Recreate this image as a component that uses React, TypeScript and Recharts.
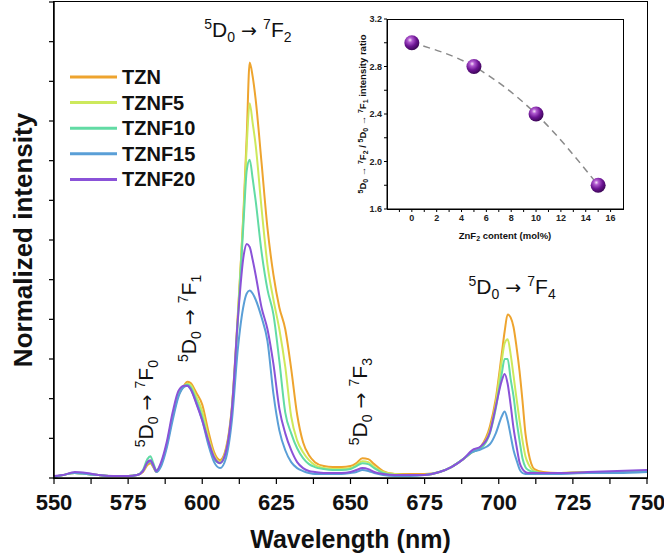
import React from "react";
import {
  LineChart,
  Line,
  XAxis,
  YAxis,
  ReferenceDot,
} from "recharts";

// emission spectra (arbitrary normalized units, axis 0-480)
const wavelengths = [
  550, 553, 557, 561, 565, 570, 575, 578, 580, 581.5, 582.5, 583.5, 584.5, 586,
  588, 590, 592, 594, 595, 596, 598, 600, 602, 604, 606, 608, 610, 612, 614,
  615, 616, 617, 618, 620, 622, 624, 626, 628, 630, 632, 634, 636, 638, 641,
  644, 647, 650, 652, 654, 656, 658, 661, 665, 670, 675, 680, 684, 688, 691,
  694, 697, 699, 701, 702, 703, 704, 705, 706, 707, 708, 709, 710, 712, 715,
  720, 730, 740, 750,
];
const tzn = [
  1, 3, 5, 4, 3, 2, 2, 3, 6, 13, 15, 11, 6, 13, 33, 62, 84, 94, 97, 96, 86, 74,
  48, 26, 18, 30, 72, 165, 275, 345, 419, 405, 382, 318, 252, 205, 172, 150,
  110, 64, 36, 23, 16, 12, 11, 11, 12, 15, 20, 19, 14, 7, 4, 4, 4, 6, 11, 19,
  26, 32, 52, 80, 125, 148, 165, 162, 152, 132, 108, 78, 45, 26, 9, 6, 5, 6, 6,
  7,
];
const tznf5 = [
  1, 3, 5, 4, 3, 2, 2, 3, 7, 15, 17, 12, 7, 13, 33, 62, 84, 93, 95, 94, 82, 67,
  42, 23, 16, 28, 70, 162, 270, 335, 378, 358, 336, 272, 215, 180, 150, 112,
  62, 38, 26, 18, 13, 10, 9, 9, 10, 13, 17, 16, 11, 6, 4, 3, 3, 6, 11, 19, 26,
  31, 48, 75, 118, 136, 140, 125, 103, 80, 58, 38, 22, 14, 7, 5, 5, 6, 6, 7,
];
const tznf10 = [
  1, 3, 5, 4, 3, 2, 2, 3, 8, 19, 22, 15, 8, 13, 33, 62, 84, 93, 94, 92, 78, 61,
  37, 19, 15, 26, 68, 158, 262, 310, 321, 302, 280, 228, 190, 165, 118, 66, 45,
  30, 20, 14, 11, 9, 8, 8, 9, 12, 15, 14, 10, 5, 3, 3, 3, 6, 11, 19, 26, 30, 45,
  70, 105, 120, 120, 100, 82, 58, 38, 20, 11, 8, 6, 5, 5, 5, 6, 6,
];
const tznf15 = [
  1, 3, 5, 4, 3, 2, 2, 3, 7, 15, 17, 12, 6, 11, 30, 58, 82, 92, 93, 90, 76, 58,
  34, 16, 10, 20, 58, 130, 175, 186, 189, 186, 180, 162, 138, 85, 48, 28, 16,
  10, 7, 5, 4, 4, 4, 4, 5, 6, 8, 7, 5, 3, 2, 2, 3, 6, 11, 19, 26, 29, 34, 45,
  62, 67, 58, 43, 28, 18, 9, 5, 4, 4, 4, 4, 4, 5, 5, 6,
];
const tznf20 = [
  2, 3, 6, 5, 3, 2, 2, 3, 7, 16, 18, 13, 7, 15, 36, 66, 88, 93, 93, 90, 75, 58,
  38, 21, 15, 27, 70, 160, 225, 236, 233, 220, 205, 172, 150, 115, 70, 45, 28,
  16, 10, 7, 6, 5, 5, 5, 6, 8, 10, 9, 6, 4, 3, 3, 3, 6, 11, 19, 28, 32, 46, 72,
  98, 105, 95, 74, 50, 32, 16, 9, 6, 5, 5, 5, 5, 6, 7, 8,
];

const seriesNames = ["TZN", "TZNF5", "TZNF10", "TZNF15", "TZNF20"];
const seriesColors = ["#EEA42E", "#CDE95C", "#62DBA4", "#5A9FD7", "#8A52D8"];
const seriesValues = [tzn, tznf5, tznf10, tznf15, tznf20];

const xTicks = [
  550, 562.5, 575, 587.5, 600, 612.5, 625, 637.5, 650, 662.5, 675, 687.5, 700,
  712.5, 725, 737.5, 750,
];
const yTicks = [0, 40, 80, 120, 160, 200, 240, 280, 320, 360, 400, 440, 480];

// transition annotations: anchor in data coords
const transitionLower = ["0", "1", "2", "3", "4"];
const transitionWl = [583.5, 597.9, 615.4, 655.6, 704.5];
const transitionY = [75, 161, 445, 77, 186];
const transitionRotated = [true, true, false, true, false];

// inset: ratio vs ZnF2 content
const znf2Content = [0, 5, 10, 15];
const intensityRatio = [3.0, 2.8, 2.4, 1.8];
const insetXTicks = [-1, 0, 1, 2, 3, 4, 5, 6, 7, 8, 9, 10, 11, 12, 13, 14, 15, 16];
const insetYTicks = [1.6, 1.8, 2.0, 2.2, 2.4, 2.6, 2.8, 3.0, 3.2];

const data = wavelengths.map((wl, i) => {
  const row: Record<string, number> = { wl };
  seriesNames.forEach((name, k) => {
    row[name] = seriesValues[k][i];
  });
  return row;
});
const insetData = znf2Content.map((c, i) => ({ c, r: intensityRatio[i] }));

const SANS = "'Liberation Sans', Arial, sans-serif";

// eslint-disable-next-line @typescript-eslint/no-explicit-any
const TransitionLabel = ({ viewBox, lower, rotated }: any) => {
  const { x, y } = viewBox;
  return (
    <text
      x={x}
      y={y}
      textAnchor="middle"
      fontSize={21}
      fontFamily={SANS}
      fill="#111"
      style={{ whiteSpace: "pre" }}
      transform={rotated ? `rotate(-90 ${x} ${y})` : undefined}
    >
      <tspan fontSize={14} dy={-8}>5</tspan>
      <tspan dy={8}>D</tspan>
      <tspan fontSize={14} dy={5}>0</tspan>
      <tspan dy={-5} fontFamily="'DejaVu Sans'" fontSize={19}> → </tspan>
      <tspan fontSize={14} dy={-8}>7</tspan>
      <tspan dy={8}>F</tspan>
      <tspan fontSize={14} dy={5}>{lower}</tspan>
    </text>
  );
};

// eslint-disable-next-line @typescript-eslint/no-explicit-any
const XTitle = ({ viewBox }: any) => (
  <text
    x={viewBox.x + viewBox.width / 2}
    y={viewBox.y + 70}
    textAnchor="middle"
    fontSize={25}
    fontWeight="bold"
    fontFamily={SANS}
    fill="#111"
  >
    Wavelength (nm)
  </text>
);

// eslint-disable-next-line @typescript-eslint/no-explicit-any
const YTitle = ({ viewBox }: any) => {
  const x = 32;
  const y = viewBox.y + viewBox.height / 2;
  return (
    <text
      x={x}
      y={y}
      textAnchor="middle"
      fontSize={26}
      fontWeight="bold"
      fontFamily={SANS}
      fill="#111"
      transform={`rotate(-90 ${x} ${y})`}
    >
      Normalized intensity
    </text>
  );
};

// eslint-disable-next-line @typescript-eslint/no-explicit-any
const InsetYTitle = ({ viewBox }: any) => {
  const x = 26;
  const y = viewBox.y + viewBox.height / 2;
  return (
    <text
      x={x}
      y={y}
      textAnchor="middle"
      fontSize={9.5}
      fontWeight="bold"
      fontFamily={SANS}
      fill="#111"
      style={{ whiteSpace: "pre" }}
      transform={`rotate(-90 ${x} ${y})`}
    >
      <tspan fontSize={7} dy={-3}>5</tspan>
      <tspan dy={3}>D</tspan>
      <tspan fontSize={7} dy={2}>0</tspan>
      <tspan dy={-2}> → </tspan>
      <tspan fontSize={7} dy={-3}>7</tspan>
      <tspan dy={3}>F</tspan>
      <tspan fontSize={7} dy={2}>2</tspan>
      <tspan dy={-2}> / </tspan>
      <tspan fontSize={7} dy={-3}>5</tspan>
      <tspan dy={3}>D</tspan>
      <tspan fontSize={7} dy={2}>0</tspan>
      <tspan dy={-2}> → </tspan>
      <tspan fontSize={7} dy={-3}>7</tspan>
      <tspan dy={3}>F</tspan>
      <tspan fontSize={7} dy={2}>1</tspan>
      <tspan dy={-2}> intensity ratio</tspan>
    </text>
  );
};

// eslint-disable-next-line @typescript-eslint/no-explicit-any
const InsetXTitle = ({ viewBox }: any) => (
  <text
    x={viewBox.x + viewBox.width / 2}
    y={viewBox.y + 30}
    textAnchor="middle"
    fontSize={9.5}
    fontWeight="bold"
    fontFamily={SANS}
    fill="#111"
  >
    ZnF<tspan fontSize={7} dy={2}>2</tspan>
    <tspan dy={-2}> content (mol%)</tspan>
  </text>
);

// eslint-disable-next-line @typescript-eslint/no-explicit-any
const Sphere = ({ cx, cy }: any) => (
  <circle cx={cx} cy={cy} r={7.5} fill="url(#sphereGrad)" />
);

const Legend = () => (
  <svg
    width={664}
    height={556}
    style={{ position: "absolute", left: 0, top: 0, pointerEvents: "none" }}
  >
    {seriesNames.map((name, i) => {
      const y = 77 + i * 25.6;
      return (
        <g key={name}>
          <line x1={70} x2={117} y1={y} y2={y} stroke={seriesColors[i]} strokeWidth={3} />
          <text
            x={122}
            y={y + 7}
            fontSize={20}
            fontWeight="bold"
            fontFamily={SANS}
            fill="#111"
          >
            {name}
          </text>
        </g>
      );
    })}
  </svg>
);

const axisLine = { stroke: "#000", strokeWidth: 1.5 };
const tickLine = { stroke: "#000", strokeWidth: 1.2 };

const App = () => {
  return (
    <div
      style={{
        position: "absolute",
        left: 0,
        top: 0,
        width: 664,
        height: 556,
        background: "#fff",
      }}
    >
      <svg width={0} height={0} style={{ position: "absolute" }}>
        <defs>
          <radialGradient id="sphereGrad" cx="0.38" cy="0.32" r="0.7">
            <stop offset="0%" stopColor="#f6e2f8" />
            <stop offset="22%" stopColor="#b15ad0" />
            <stop offset="60%" stopColor="#6c1493" />
            <stop offset="100%" stopColor="#3a0554" />
          </radialGradient>
        </defs>
      </svg>

      {/* plot frames */}
      <div
        style={{
          position: "absolute",
          left: 53,
          top: 1,
          width: 593,
          height: 476,
          border: "1.5px solid #000",
        }}
      />
      <div
        style={{
          position: "absolute",
          left: 387,
          top: 19,
          width: 235,
          height: 189,
          border: "1px solid #000",
        }}
      />

      <div style={{ position: "absolute", left: 0, top: 0 }}>
        <LineChart
          width={664}
          height={556}
          data={data}
          margin={{ top: 2, right: 17, left: 0, bottom: 0 }}
        >
          <XAxis
            dataKey="wl"
            type="number"
            domain={[550, 750]}
            ticks={xTicks}
            interval={0}
            height={78}
            tickSize={6}
            tickMargin={10}
            axisLine={axisLine}
            tickLine={tickLine}
            tickFormatter={(v: number) => (v % 25 === 0 ? String(v) : "")}
            tick={{ fontSize: 22, fontWeight: "bold", fontFamily: SANS, fill: "#111" }}
            label={<XTitle />}
          />
          <YAxis
            type="number"
            domain={[0, 480]}
            ticks={yTicks}
            interval={0}
            width={54}
            tickSize={5}
            axisLine={axisLine}
            tickLine={tickLine}
            tickFormatter={() => ""}
            label={<YTitle />}
          />
          {seriesNames.map((name, i) => (
            <Line
              key={name}
              dataKey={name}
              type="monotone"
              stroke={seriesColors[i]}
              strokeWidth={2}
              dot={false}
              isAnimationActive={false}
            />
          ))}
          {transitionLower.map((lower, i) => (
            <ReferenceDot
              key={lower}
              x={transitionWl[i]}
              y={transitionY[i]}
              r={0}
              fill="none"
              stroke="none"
              label={<TransitionLabel lower={lower} rotated={transitionRotated[i]} />}
            />
          ))}
        </LineChart>
      </div>

      <Legend />

      <div style={{ position: "absolute", left: 340, top: 0, width: 300, height: 250 }}>
        <LineChart
          width={300}
          height={250}
          data={insetData}
          margin={{ top: 19, right: 17, left: 17, bottom: 21 }}
        >
          <XAxis
            dataKey="c"
            type="number"
            domain={[-2, 17]}
            ticks={insetXTicks}
            interval={0}
            height={20}
            tickSize={3}
            tickMargin={3}
            axisLine={{ stroke: "#000" }}
            tickLine={{ stroke: "#000" }}
            tickFormatter={(v: number) => (v >= 0 && v % 2 === 0 ? String(v) : "")}
            tick={{ fontSize: 9, fontWeight: "bold", fontFamily: SANS, fill: "#222" }}
            label={<InsetXTitle />}
          />
          <YAxis
            type="number"
            domain={[1.6, 3.2]}
            ticks={insetYTicks}
            interval={0}
            width={30}
            tickSize={3}
            tickMargin={2}
            axisLine={{ stroke: "#000" }}
            tickLine={{ stroke: "#000" }}
            tickFormatter={(v: number) =>
              Math.round(v * 10) % 4 === 0 ? v.toFixed(1) : ""
            }
            tick={{ fontSize: 9, fontWeight: "bold", fontFamily: SANS, fill: "#222" }}
            label={<InsetYTitle />}
          />
          <Line
            dataKey="r"
            type="monotone"
            stroke="#8a8a8a"
            strokeWidth={1.5}
            strokeDasharray="7 5"
            dot={<Sphere />}
            isAnimationActive={false}
          />
        </LineChart>
      </div>
    </div>
  );
};

export default App;
